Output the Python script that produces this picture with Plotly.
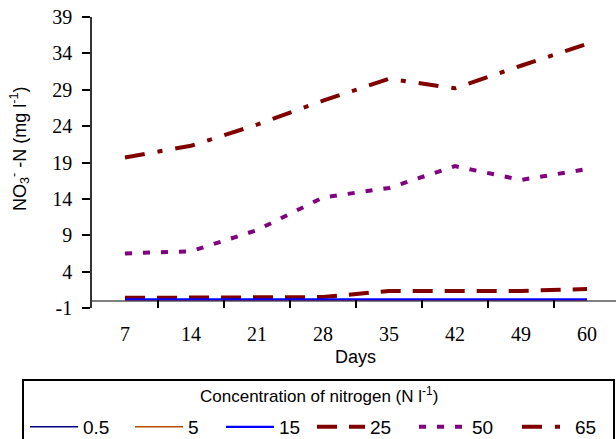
import plotly.graph_objects as go

days = ["7", "14", "21", "28", "35", "42", "49", "60"]
conc_labels = ["0.5", "5", "15", "25", "50", "65"]
s_05 = [0.1, 0.1, 0.1, 0.1, 0.1, 0.1, 0.1, 0.1]
s_5 = [0.15, 0.15, 0.15, 0.15, 0.15, 0.15, 0.15, 0.15]
s_15 = [0.2, 0.2, 0.2, 0.2, 0.2, 0.2, 0.2, 0.2]
s_25 = [0.4, 0.4, 0.4, 0.5, 1.35, 1.35, 1.35, 1.6]
s_50 = [6.5, 6.8, 9.7, 14.2, 15.5, 18.5, 16.6, 18.1]
s_65 = [19.7, 21.3, 24.2, 27.5, 30.5, 29.2, 32.3, 35.3]
y_ticks = [-1, 4, 9, 14, 19, 24, 29, 34, 39]
y_tick_text = ["-1", "4", "9", "14", "19", "24", "29", "34", "39"]

series = [s_05, s_5, s_15, s_25, s_50, s_65]
colors = ["#000080", "#B84A00", "#0000FF", "#800000", "#800080", "#800000"]
widths = [1.5, 1.5, 2.2, 4, 4, 4]
dashes = ["solid", "solid", "solid", "20px,12px", "7px,11px", "20px,13px,5px,13px"]
legend_ids = ["legend", "legend2", "legend3", "legend4", "legend5", "legend6"]
legend_left_px = [25, 130, 221, 312, 414, 517]

W, H = 616, 439
L, R, T, B = 92, 0, 17, 131
pw, ph = W - L - R, H - T - B

def px_x(p):
    return (p - L) / pw

def px_y(p):
    return (H - B - p) / ph

fig = go.Figure()
order = [0, 1, 3, 4, 5, 2]
for i in order:
    fig.add_trace(go.Scatter(
        x=days, y=series[i], name=conc_labels[i], mode="lines",
        line=dict(color=colors[i], width=widths[i], dash=dashes[i]),
        legend=legend_ids[i],
    ))

legend_font = dict(family="Liberation Sans, Arial", size=19, color="black")
legends = {}
for i, lid in enumerate(legend_ids):
    legends[lid] = dict(
        orientation="h", xref="container", yref="container",
        x=legend_left_px[i] / W, xanchor="left", y=1 - 427 / H, yanchor="middle",
        bgcolor="rgba(0,0,0,0)", borderwidth=0, font=legend_font,
        itemwidth=48, itemclick=False,
    )

fig.update_layout(
    width=W, height=H,
    margin=dict(l=L, r=R, t=T, b=B, pad=0),
    plot_bgcolor="white", paper_bgcolor="white",
    showlegend=True,
    xaxis=dict(
        type="category", range=[-0.5, (W - R - L) / 66 - 0.5],
        showgrid=False, showline=False, zeroline=False,
        ticks="inside", ticklen=8, tickwidth=1.5, tickcolor="black",
        tickson="boundaries", ticklabelstandoff=12,
        tickfont=dict(family="Liberation Serif, Times New Roman", size=20, color="black"),
    ),
    yaxis=dict(
        range=[-1, 39], tickvals=y_ticks, ticktext=y_tick_text, showgrid=False,
        showline=True, linecolor="#333333", linewidth=1.5,
        ticks="outside", ticklen=8, tickwidth=1.5, tickcolor="black",
        zeroline=True, zerolinecolor="#808080", zerolinewidth=2,
        ticklabelstandoff=6,
        tickfont=dict(family="Liberation Serif, Times New Roman", size=20, color="black"),
    ),
    shapes=[dict(type="rect", xref="paper", yref="paper",
                 x0=px_x(23), x1=px_x(614), y0=px_y(380), y1=px_y(460),
                 line=dict(color="black", width=2), fillcolor="rgba(0,0,0,0)")],
    annotations=[
        dict(text="Days", xref="paper", yref="paper", x=px_x(355), y=px_y(357),
             showarrow=False, xanchor="center", yanchor="middle",
             font=dict(family="Liberation Sans, Arial", size=18, color="black")),
        dict(text="NO<sub>3</sub><sup>-</sup> -N (mg l<sup>-1</sup>)", xref="paper", yref="paper",
             x=px_x(19), y=px_y(149), textangle=-90, showarrow=False,
             xanchor="center", yanchor="middle",
             font=dict(family="Liberation Sans, Arial", size=18, color="black")),
        dict(text="Concentration of nitrogen (N l<sup>-1</sup>)", xref="paper", yref="paper",
             x=px_x(319), y=px_y(395), showarrow=False, xanchor="center", yanchor="middle",
             font=dict(family="Liberation Sans, Arial", size=17, color="black")),
    ],
)
fig.update_layout(**legends)

fig.write_html("out.html")
